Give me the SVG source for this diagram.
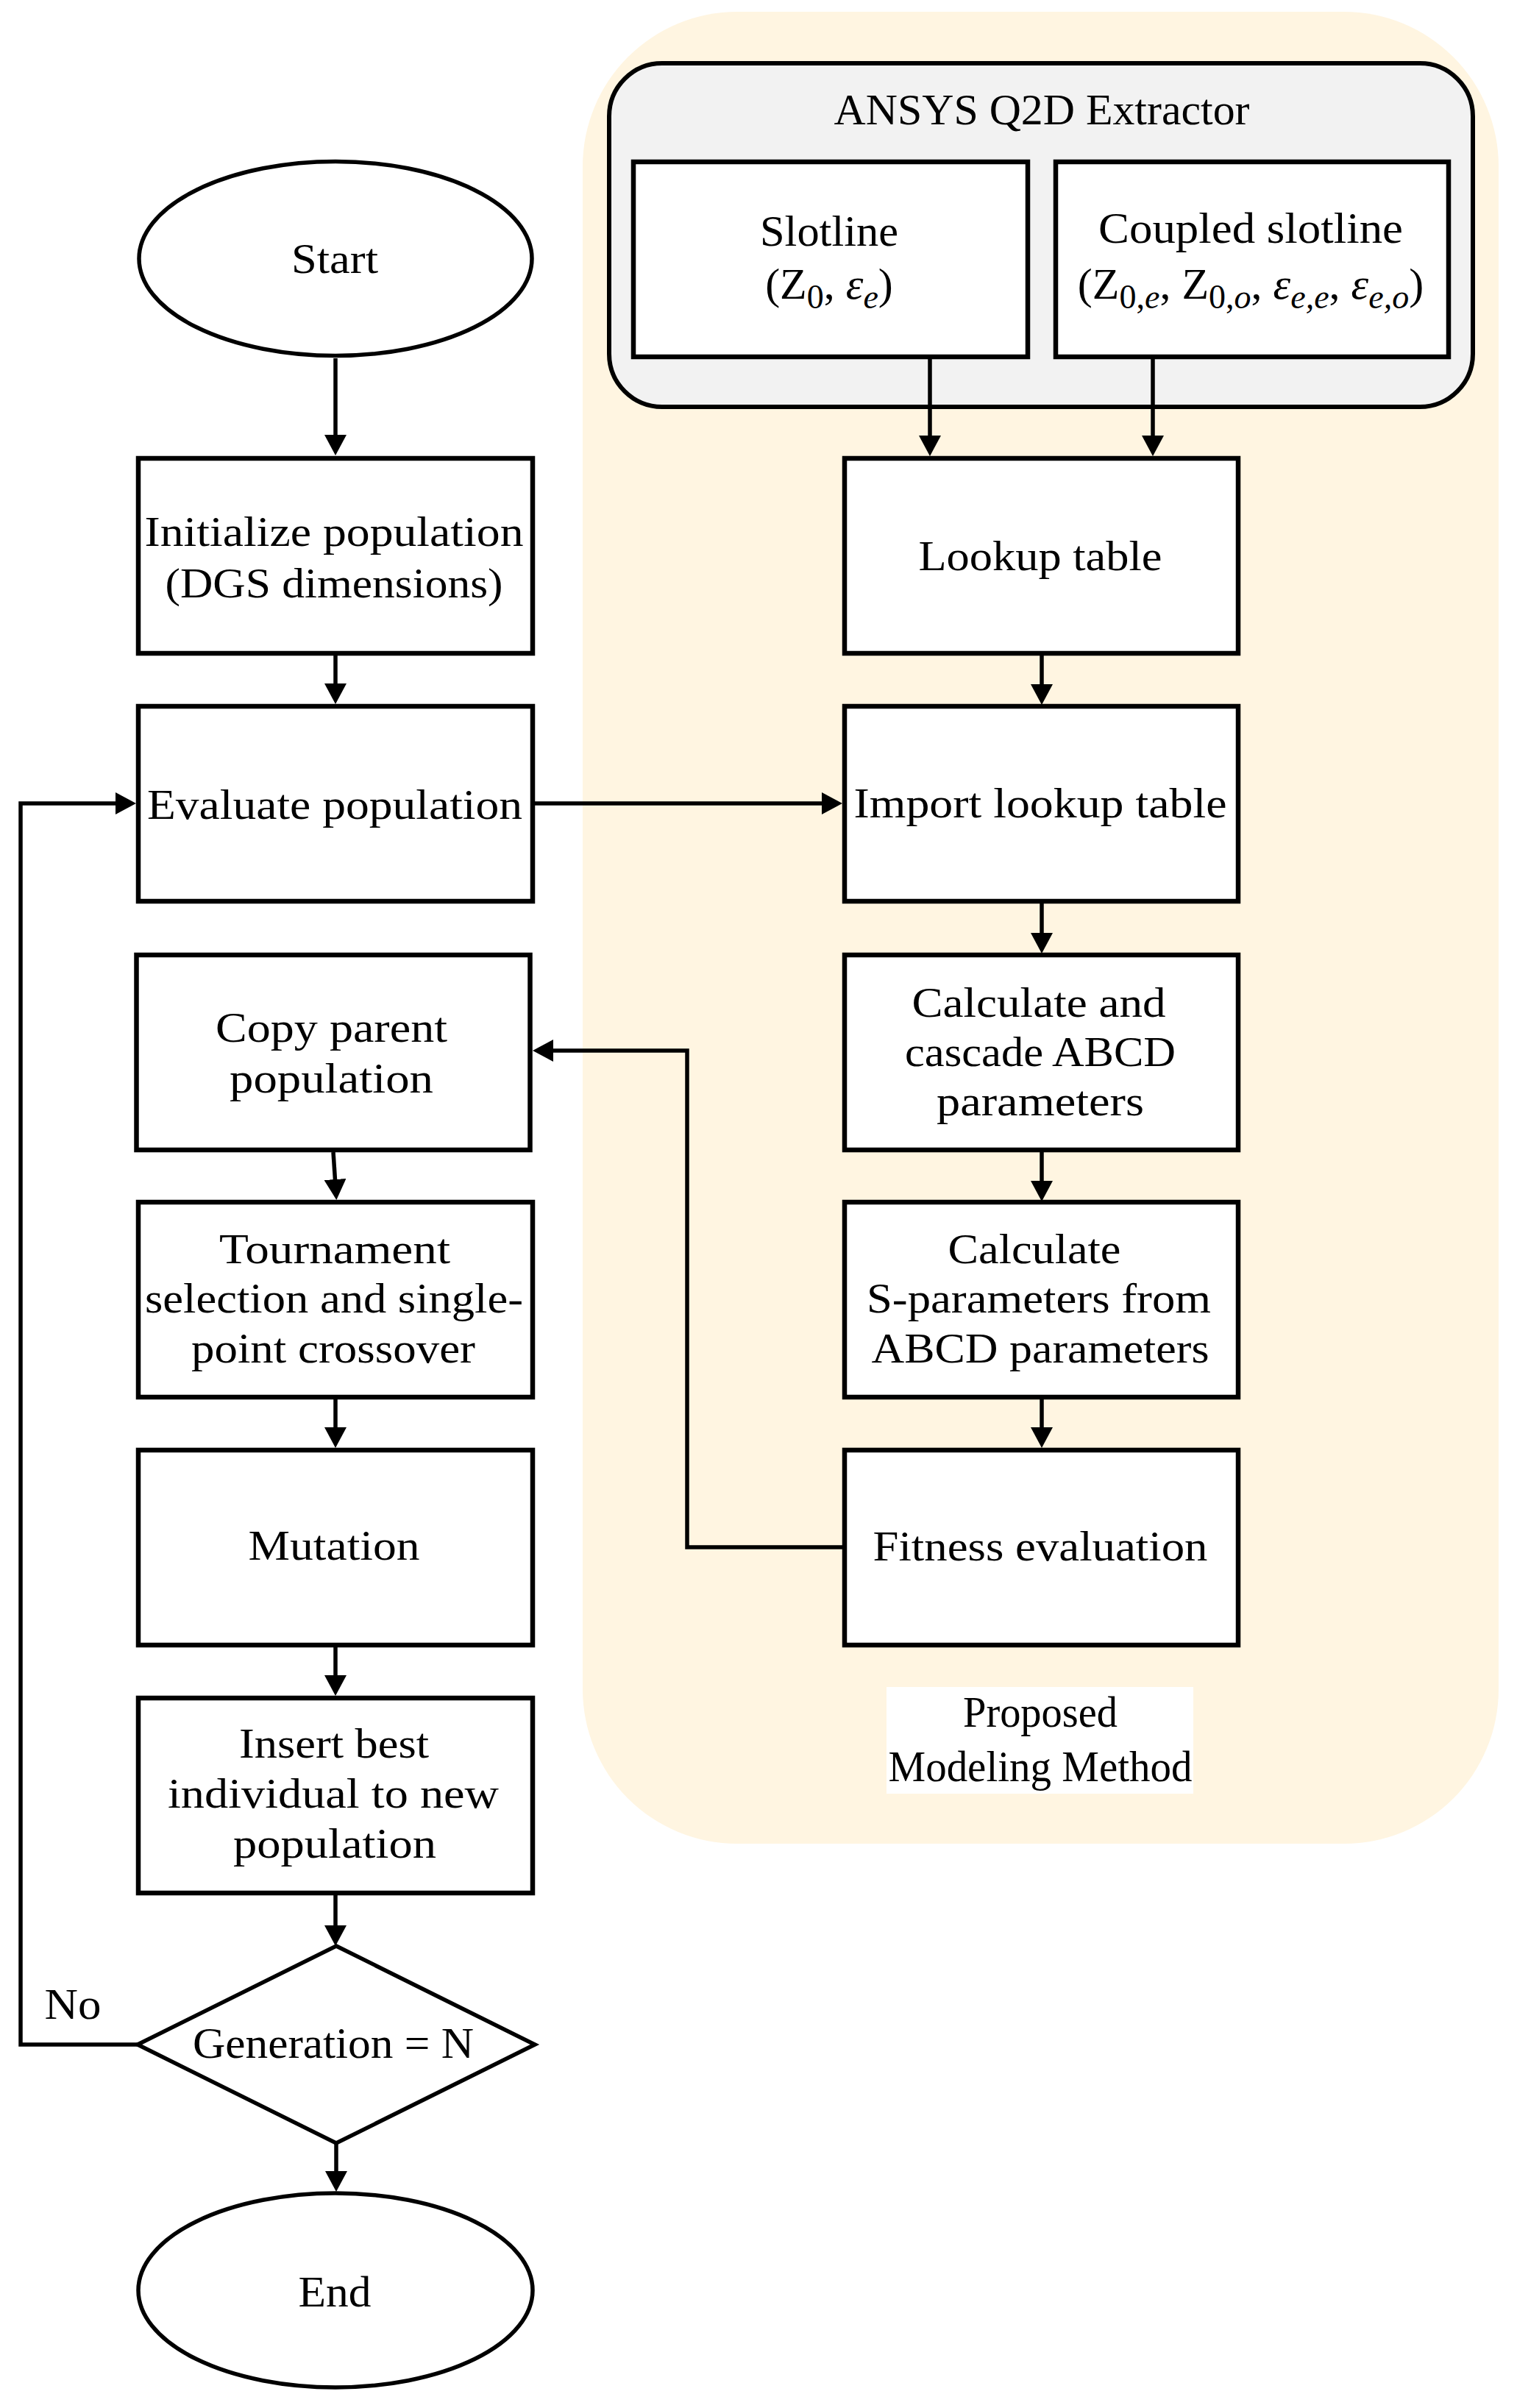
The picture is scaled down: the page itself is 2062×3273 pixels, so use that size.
<svg xmlns="http://www.w3.org/2000/svg" width="2062" height="3273" viewBox="0 0 2062 3273">
<defs>
<style>
.box{fill:#fff;stroke:#000;stroke-width:6.5}
.term{fill:#fff;stroke:#000;stroke-width:5.5}
.t{font-family:"Liberation Serif","Times New Roman",serif;font-size:60px;fill:#000;text-anchor:middle}
.p{font-family:"Liberation Serif","Times New Roman",serif;font-size:58px;fill:#000;text-anchor:middle}
.sb{font-size:46px}
.i{font-style:italic}
.c{fill:none;stroke:#000;stroke-width:5.5}
</style>
<marker id="ah" markerUnits="userSpaceOnUse" viewBox="0 0 28 30" refX="8" refY="15" markerWidth="28" markerHeight="30" orient="auto">
<path d="M0,0 L28,15 L0,30 z" fill="#000"/>
</marker>
</defs>
<rect width="2062" height="3273" fill="#fff"/>

<g id="proposed-method-region">
<rect x="792" y="16" width="1245" height="2490" rx="210" ry="210" fill="#fff5e1"/>
<rect x="1205" y="2293" width="417" height="145" fill="#fff"/>
<text class="t" x="1414" y="2347" font-size="57" textLength="210" lengthAdjust="spacingAndGlyphs">Proposed</text>
<text class="t" x="1414" y="2421" font-size="57" textLength="413" lengthAdjust="spacingAndGlyphs">Modeling Method</text>
</g>

<g id="ansys-q2d-extractor">
<rect x="828" y="86" width="1174" height="467" rx="72" ry="72" fill="#f2f2f2" stroke="#000" stroke-width="6"/>
<text class="t" x="1416" y="169" textLength="565" lengthAdjust="spacingAndGlyphs">ANSYS Q2D Extractor</text>
</g>

<g id="slotline">
<rect class="box" x="861" y="220" width="536" height="265"/>
<text class="t" x="1127" y="334" textLength="188" lengthAdjust="spacingAndGlyphs">Slotline</text>
<text class="t" x="1127" y="406">(Z<tspan class="sb" dy="13">0</tspan><tspan dy="-13">, </tspan><tspan class="i">ε</tspan><tspan class="sb i" dy="13">e</tspan><tspan dy="-13">)</tspan></text>
</g>

<g id="coupled-slotline">
<rect class="box" x="1435" y="220" width="534" height="265"/>
<text class="t" x="1700" y="330" textLength="414" lengthAdjust="spacingAndGlyphs">Coupled slotline</text>
<text class="t" x="1700" y="406">(Z<tspan class="sb" dy="13">0,</tspan><tspan class="sb i">e</tspan><tspan dy="-13">, Z</tspan><tspan class="sb" dy="13">0,</tspan><tspan class="sb i">o</tspan><tspan dy="-13">, </tspan><tspan class="i">ε</tspan><tspan class="sb i" dy="13">e,e</tspan><tspan dy="-13">, </tspan><tspan class="i">ε</tspan><tspan class="sb i" dy="13">e,o</tspan><tspan dy="-13">)</tspan></text>
</g>

<g id="lookup-table">
<rect class="box" x="1148" y="623" width="535" height="265"/>
<text class="p" x="1414" y="775" textLength="331" lengthAdjust="spacingAndGlyphs">Lookup table</text>
</g>

<g id="import-lookup-table">
<rect class="box" x="1148" y="960" width="535" height="265"/>
<text class="p" x="1414" y="1111" textLength="507" lengthAdjust="spacingAndGlyphs">Import lookup table</text>
</g>

<g id="calculate-cascade-abcd">
<rect class="box" x="1148" y="1298" width="535" height="265"/>
<text class="p" x="1412" y="1382" textLength="345" lengthAdjust="spacingAndGlyphs">Calculate and</text>
<text class="p" x="1414" y="1449" textLength="368" lengthAdjust="spacingAndGlyphs">cascade ABCD</text>
<text class="p" x="1414" y="1516" textLength="282" lengthAdjust="spacingAndGlyphs">parameters</text>
</g>

<g id="calculate-s-parameters">
<rect class="box" x="1148" y="1634" width="535" height="265"/>
<text class="p" x="1406" y="1717" textLength="235" lengthAdjust="spacingAndGlyphs">Calculate</text>
<text class="p" x="1412" y="1784" textLength="468" lengthAdjust="spacingAndGlyphs">S-parameters from</text>
<text class="p" x="1414" y="1852" textLength="459" lengthAdjust="spacingAndGlyphs">ABCD parameters</text>
</g>

<g id="fitness-evaluation">
<rect class="box" x="1148" y="1971" width="535" height="265"/>
<text class="p" x="1414" y="2121" textLength="455" lengthAdjust="spacingAndGlyphs">Fitness evaluation</text>
</g>

<g id="start">
<ellipse class="term" cx="456" cy="351.5" rx="267" ry="132"/>
<text class="p" x="455" y="371" textLength="118" lengthAdjust="spacingAndGlyphs">Start</text>
</g>

<g id="initialize-population">
<rect class="box" x="188" y="623" width="536" height="265"/>
<text class="p" x="454" y="742" textLength="515" lengthAdjust="spacingAndGlyphs">Initialize population</text>
<text class="p" x="454" y="812" textLength="459" lengthAdjust="spacingAndGlyphs">(DGS dimensions)</text>
</g>

<g id="evaluate-population">
<rect class="box" x="188" y="960" width="536" height="265"/>
<text class="p" x="455" y="1113" textLength="510" lengthAdjust="spacingAndGlyphs">Evaluate population</text>
</g>

<g id="copy-parent-population">
<rect class="box" x="185.5" y="1298" width="535" height="265"/>
<text class="p" x="450.5" y="1416" textLength="315" lengthAdjust="spacingAndGlyphs">Copy parent</text>
<text class="p" x="450.5" y="1485" textLength="277" lengthAdjust="spacingAndGlyphs">population</text>
</g>

<g id="tournament-selection">
<rect class="box" x="188" y="1634" width="536" height="265"/>
<text class="p" x="455" y="1717" textLength="314" lengthAdjust="spacingAndGlyphs">Tournament</text>
<text class="p" x="454" y="1784" textLength="514" lengthAdjust="spacingAndGlyphs">selection and single-</text>
<text class="p" x="453" y="1852" textLength="386" lengthAdjust="spacingAndGlyphs">point crossover</text>
</g>

<g id="mutation">
<rect class="box" x="188" y="1971" width="536" height="265"/>
<text class="p" x="454" y="2120" textLength="233" lengthAdjust="spacingAndGlyphs">Mutation</text>
</g>

<g id="insert-best-individual">
<rect class="box" x="188" y="2308" width="536" height="265"/>
<text class="p" x="454" y="2389" textLength="258" lengthAdjust="spacingAndGlyphs">Insert best</text>
<text class="p" x="453" y="2457" textLength="450" lengthAdjust="spacingAndGlyphs">individual to new</text>
<text class="p" x="455" y="2525" textLength="276" lengthAdjust="spacingAndGlyphs">population</text>
</g>

<g id="generation-check">
<polygon class="term" points="457,2645 727,2779 457,2913 187,2779"/>
<text class="t" x="453" y="2797" textLength="382" lengthAdjust="spacingAndGlyphs">Generation = N</text>
</g>

<g id="end">
<ellipse class="term" cx="456" cy="3113" rx="268" ry="132"/>
<text class="t" x="455" y="3135" textLength="99" lengthAdjust="spacingAndGlyphs">End</text>
</g>

<g id="connectors">
<path class="c" d="M456,487 V599" marker-end="url(#ah)"/>
<path class="c" d="M456,891 V937" marker-end="url(#ah)"/>
<path class="c" d="M727,1092 H1125" marker-end="url(#ah)"/>
<path class="c" d="M1264,488 V600" marker-end="url(#ah)"/>
<path class="c" d="M1567,488 V600" marker-end="url(#ah)"/>
<path class="c" d="M1416,891 V938" marker-end="url(#ah)"/>
<path class="c" d="M1416,1228 V1276" marker-end="url(#ah)"/>
<path class="c" d="M1416,1566 V1613" marker-end="url(#ah)"/>
<path class="c" d="M1416,1902 V1948" marker-end="url(#ah)"/>
<path class="c" d="M1145,2103 H934 V1428 H744" marker-end="url(#ah)"/>
<path class="c" d="M453,1566 L456,1611" marker-end="url(#ah)"/>
<path class="c" d="M456,1902 V1948" marker-end="url(#ah)"/>
<path class="c" d="M456,2239 V2285" marker-end="url(#ah)"/>
<path class="c" d="M456,2576 V2625" marker-end="url(#ah)"/>
<path class="c" d="M457,2913 V2959" marker-end="url(#ah)"/>
<path class="c" d="M187,2779 H28 V1092 H165" marker-end="url(#ah)"/>
<text class="t" x="99" y="2744" textLength="77" lengthAdjust="spacingAndGlyphs">No</text>
</g>
</svg>
